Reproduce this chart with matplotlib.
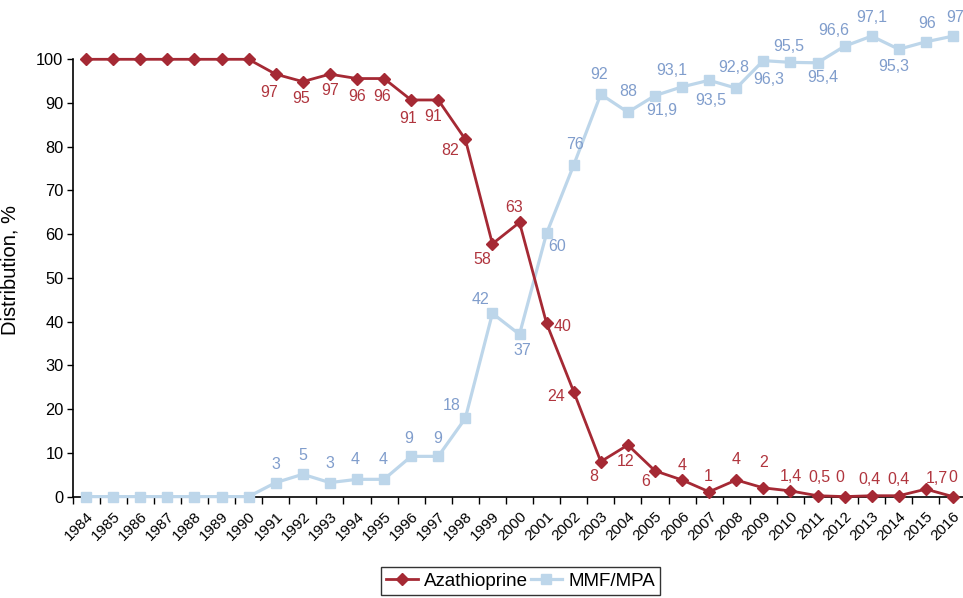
import matplotlib
matplotlib.use("Agg")
import matplotlib.pyplot as plt
from matplotlib.ticker import FixedLocator
import numpy as np

plt.rcParams['font.family'] = ['Liberation Sans', 'DejaVu Sans']

years = [str(y) for y in range(1984, 2017)]

aza_values = [100, 100, 100, 100, 100, 100, 100, 96.6, 94.9, 96.6, 95.6, 95.6, 90.7, 90.7,
              81.7, 57.8, 62.7, 39.6, 24.0, 8.0, 11.8, 5.9, 3.8, 1.1, 3.8, 2.0, 1.3, 0.2,
              0.0, 0.2, 0.2, 1.7, 0.0]
aza_labels = ["", "", "", "", "", "", "", "97", "95", "97", "96", "96", "91", "91",
              "82", "58", "63", "40", "24", "8", "12", "6", "4", "1", "4", "2", "1,4", "0,5",
              "0", "0,4", "0,4", "1,7", "0"]

mmf_values = [0, 0, 0, 0, 0, 0, 0, 3.2, 5.1, 3.2, 3.95, 3.95, 9.2, 9.2,
              17.9, 41.9, 37.1, 60.2, 75.8, 92.0, 87.9, 91.7, 93.7, 95.2, 93.4, 99.7, 99.3, 99.2,
              103.0, 105.3, 102.3, 104.0, 105.3]
mmf_labels = ["", "", "", "", "", "", "", "3", "5", "3", "4", "4", "9", "9",
              "18", "42", "37", "60", "76", "92", "88", "91,9", "93,1", "93,5", "92,8", "96,3",
              "95,5", "95,4", "96,6", "97,1", "95,3", "96", "97"]

# label offsets in pixels (dx, dy)
aza_off = [(0, 0)] * 7 + [(-7, -18), (-2, -17), (0, -16), (0, -18), (-2, -18), (-3, -19), (-5, -17),
                          (-15, -11), (-10, -16), (-5, 15), (16, -3), (-18, -5), (-7, -15), (-2, -17),
                          (-9, -11), (0, 14), (-1, 15), (0, 20), (0, 25), (0, 14), (2, 18),
                          (-5, 19), (-2, 16), (0, 16), (11, 11), (0, 19)]
mmf_off = [(0, 0)] * 7 + [(0, 18), (0, 19), (0, 19), (-2, 20), (-1, 20), (-2, 18), (-1, 18),
                          (-14, 13), (-12, 14), (3, -16), (11, -13), (1, 21), (-2, 20), (0, 21),
                          (7, -15), (-10, 16), (2, -20), (-2, 21), (5, -19), (-2, 16), (5, -15),
                          (-11, 16), (0, 19), (-5, -17), (1, 18), (2, 19)]

aza_line = '#A52934'
aza_text = '#B0353E'
mmf_line = '#BDD6EA'
mmf_text = '#809DCC'

W, H = 963, 598
fig = plt.figure(figsize=(W / 100, H / 100), dpi=100)
left, right = 72.5, 966.5
top, bottom = 59.3, 496.6
ax = fig.add_axes([left / W, 1 - bottom / H, (right - left) / W, (bottom - top) / H])

x = np.arange(len(years))
ax.plot(x, mmf_values, color=mmf_line, lw=2.3, marker='s', markersize=7.5,
        markerfacecolor=mmf_line, markeredgecolor=mmf_line, clip_on=False, zorder=3,
        label='MMF/MPA')
ax.plot(x, aza_values, color=aza_line, lw=2.0, marker='D', markersize=6.5,
        markerfacecolor=aza_line, markeredgecolor=aza_line, clip_on=False, zorder=4,
        label='Azathioprine')

for xi, v, lab, (dx, dy) in zip(x, aza_values, aza_labels, aza_off):
    if lab:
        ax.annotate(lab, (xi, v), xytext=(dx, dy), textcoords='offset pixels',
                    ha='center', va='center', fontsize=11.5, color=aza_text,
                    annotation_clip=False, zorder=5)
for xi, v, lab, (dx, dy) in zip(x, mmf_values, mmf_labels, mmf_off):
    if lab:
        ax.annotate(lab, (xi, v), xytext=(dx, dy), textcoords='offset pixels',
                    ha='center', va='center', fontsize=11.5, color=mmf_text,
                    annotation_clip=False, zorder=5)

ax.set_xlim(-0.5, len(years) - 0.5)
ax.set_ylim(0, 100)
ax.set_yticks(range(0, 101, 10))
ax.tick_params(axis='y', direction='out', length=4.5, width=1, labelsize=11.8, pad=2)

ax.set_xticks(x)
ax.set_xticklabels(years, rotation=45, ha='right', va='top', rotation_mode='anchor', fontsize=11)
ax.tick_params(axis='x', which='major', length=0, pad=9)
ax.xaxis.set_minor_locator(FixedLocator(np.arange(-0.5, len(years), 1)))
ax.tick_params(axis='x', which='minor', direction='out', length=5, width=1)

for s in ['top', 'right']:
    ax.spines[s].set_visible(False)
ax.spines['left'].set_linewidth(1.2)
ax.spines['bottom'].set_linewidth(1.2)

ax.set_ylabel('Distribution, %', fontsize=14.5)
ax.yaxis.set_label_coords((20 - left) / (right - left), (bottom - 270) / (bottom - top))

handles, labels = ax.get_legend_handles_labels()
leg = fig.legend(handles[::-1], labels[::-1], loc='center', bbox_to_anchor=(520.5 / W, 1 - 581 / H),
                 ncol=2, frameon=True, fontsize=13.5, handlelength=1.7, handletextpad=0.3,
                 columnspacing=0.15, borderpad=0.3, fancybox=False, edgecolor='black')
leg.get_frame().set_linewidth(1.0)

fig.savefig('out.png', dpi=100)
